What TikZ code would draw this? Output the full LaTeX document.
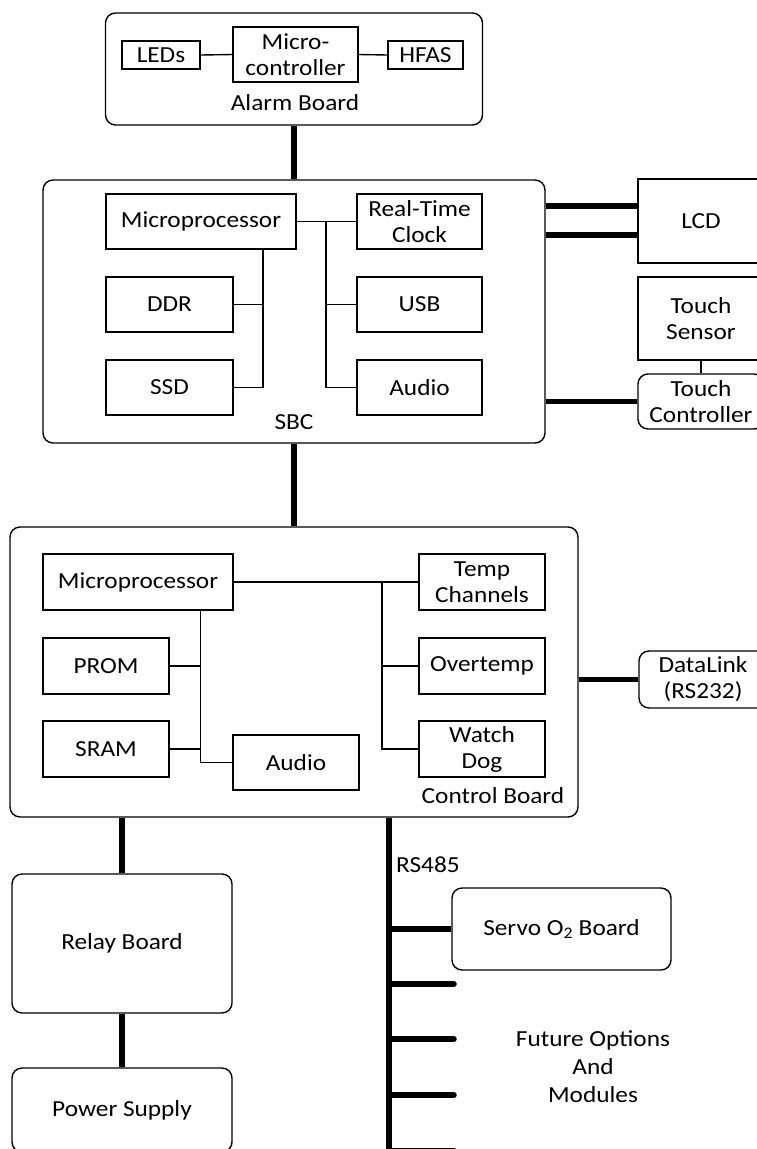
\documentclass[tikz,border=0pt]{standalone}
\usepackage{fontspec}
\setmainfont{Carlito}[FakeStretch=1.1]
\newcommand\dfont{\fontsize{23}{26}\selectfont}
\tikzset{
  box/.style={draw, line width=1.4pt, inner sep=0pt, align=center, font=\dfont},
  board/.style={box, rounded corners=10pt},
  sz/.style 2 args={minimum width=#1pt, minimum height=#2pt},
  thin/.style={line width=1.4pt},
  bus/.style={line width=5.5pt},
  stub/.style={line width=5.5pt, line cap=round},
  lbl/.style={inner sep=0pt, align=center, font=\dfont}
}
\begin{document}
\begin{tikzpicture}[x=1pt,y=-1pt]
\useasboundingbox (0,0) rectangle (757,1149);
\fill[white] (0,0) rectangle (757,1149);

% ---- Alarm board ----
\node[board, sz={377}{112}] (alarm) at (294,69) {};
\node[lbl] (alarmlbl) at (295,103) {Alarm Board};
\node[box, sz={78}{28}] (leds) at (161,55) {LEDs};
\node[box, sz={125}{55}] (mc) at (295.5,54.5) {Micro-\\controller};
\node[box, sz={75}{28}] (hfas) at (425.5,55) {HFAS};
\draw[thin] (leds.east) -- (mc.west);
\draw[thin] (mc.east) -- (hfas.west);

% ---- SBC ----
\node[board, sz={502}{263}] (sbc) at (294,311.5) {};
\node[lbl] (sbclbl) at (294,422) {SBC};
\node[box, sz={190}{55}] (sbcmp) at (201,221.5) {Microprocessor};
\node[box, sz={125}{55}] (rtc) at (419.5,221.5) {Real-Time\\Clock};
\node[box, sz={127}{55}] (ddr) at (169.5,304.5) {DDR};
\node[box, sz={127}{55}] (ssd) at (169.5,387.5) {SSD};
\node[box, sz={125}{55}] (usb) at (419.5,304.5) {USB};
\node[box, sz={125}{55}] (sbcaudio) at (419.5,387.5) {Audio};
\coordinate (sbcL) at (263,0);
\coordinate (sbcR) at (326,0);
\draw[thin] (sbcmp.south -| sbcL) -- (ssd.east -| sbcL) -- (ssd.east);
\draw[thin] (ddr.east) -- (ddr.east -| sbcL);
\draw[thin] (sbcmp.east) -- (rtc.west);
\draw[thin] (sbcmp.east -| sbcR) -- (sbcaudio.west -| sbcR) -- (sbcaudio.west);
\draw[thin] (usb.west -| sbcR) -- (usb.west);

% ---- Display side ----
\node[box, sz={126}{84}] (lcd) at (701,221) {LCD};
\node[box, sz={126}{83}] (tsens) at (701,318.5) {Touch\\Sensor};
\node[board, sz={126}{55}] (tctrl) at (701,401.5) {Touch\\Controller};
\draw[thin] (tsens.south) -- (tctrl.north);
\draw[bus] ([yshift=15pt]sbc.east |- lcd.west) -- ([yshift=15pt]lcd.west);
\draw[bus] ([yshift=-14pt]sbc.east |- lcd.west) -- ([yshift=-14pt]lcd.west);
\draw[bus] (sbc.east |- tctrl.west) -- (tctrl.west);

\draw[bus] (alarm.south) -- (sbc.north);

% ---- Control board ----
\node[board, sz={568}{290}] (ctrl) at (294,672) {};
\node[lbl] (ctrllbl) at (493,796) {Control Board};
\node[box, sz={190}{56}] (cbmp) at (138,582) {Microprocessor};
\node[box, sz={126}{56}] (prom) at (106,666) {PROM};
\node[box, sz={126}{56}] (sram) at (106,749) {SRAM};
\node[box, sz={126}{55}] (cbaudio) at (296,762.5) {Audio};
\node[box, sz={126}{56}] (temp) at (482,582) {Temp\\Channels};
\node[box, sz={126}{56}] (otemp) at (482,666) {Overtemp};
\node[box, sz={126}{56}] (wdog) at (482,749) {Watch\\Dog};
\coordinate (cbL) at (200.5,0);
\coordinate (cbR) at (382,0);
\draw[thin] (cbmp.south -| cbL) -- (cbaudio.west -| cbL) -- (cbaudio.west);
\draw[thin] (prom.east) -- (prom.east -| cbL);
\draw[thin] (sram.east) -- (sram.east -| cbL);
\draw[thin] (cbmp.east) -- (temp.west);
\draw[thin] (temp.west -| cbR) -- (wdog.west -| cbR) -- (wdog.west);
\draw[thin] (otemp.west -| cbR) -- (otemp.west);

\draw[bus] (sbc.south) -- (ctrl.north);

\node[board, sz={128}{57}] (dlink) at (703,679.5) {DataLink\\(RS232)};
\draw[bus] (ctrl.east |- dlink.west) -- (dlink.west);

% ---- Power path ----
\node[board, sz={220}{139}] (relay) at (122,943.5) {Relay Board};
\node[board, sz={220}{84}] (power) at (122,1110) {Power Supply};
\draw[bus] (ctrl.south -| relay.north) -- (relay.north);
\draw[bus] (relay.south) -- (power.north);

% ---- RS485 bus ----
\coordinate (busEnd) at (389,1155);
\draw[bus] (ctrl.south -| busEnd) -- (busEnd);
\node[lbl, anchor=west] (rslbl) at (396,865) {RS485};
\node[board, sz={219}{82}] (servo) at (561.5,929) {Servo O\textsubscript{2} Board};
\draw[bus] (servo.west -| busEnd) -- (servo.west);
\coordinate (f1) at (454,984);
\coordinate (f2) at (454,1039);
\coordinate (f3) at (454,1095);
\coordinate (f4) at (454,1151);
\draw[stub] (f1 -| busEnd) -- (f1);
\draw[stub] (f2 -| busEnd) -- (f2);
\draw[stub] (f3 -| busEnd) -- (f3);
\draw[stub] (f4 -| busEnd) -- (f4);
\node[lbl, font=\fontsize{23}{28}\selectfont] (future) at (593,1067) {Future Options\\And\\Modules};
\end{tikzpicture}
\end{document}
